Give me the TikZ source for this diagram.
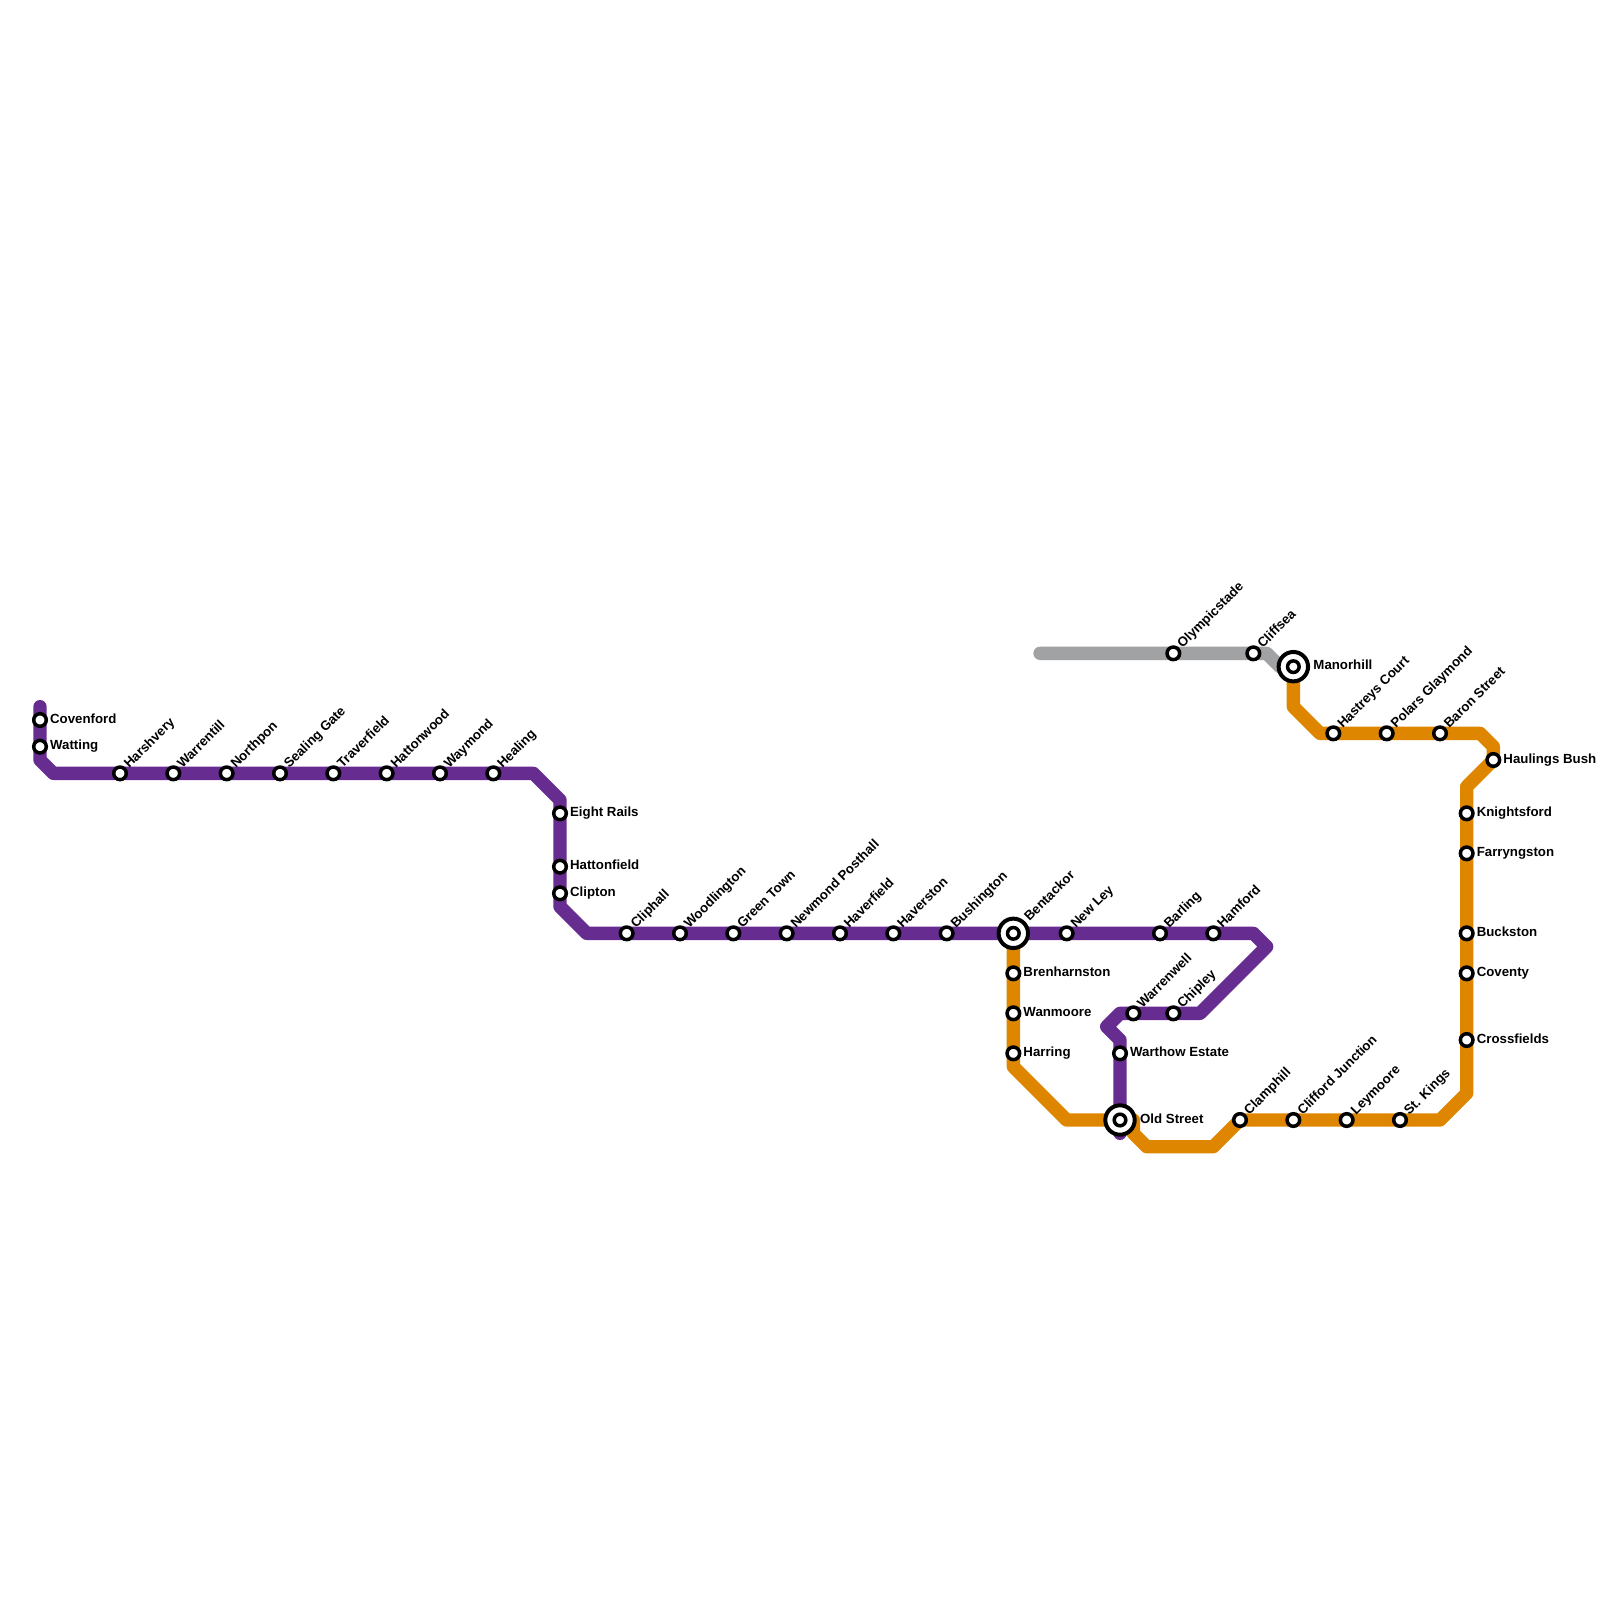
\documentclass[tikz,border=0pt]{standalone}
\usepackage{fontspec}
\setmainfont{Liberation Sans}
\usetikzlibrary{backgrounds}
\tikzset{
  x=0.666667cm,y=-0.666667cm,
  metro/.style={line width=0.6667cm,line cap=round,line join=round},
  purpleline/.style={metro,draw={rgb,255:red,102;green,44;blue,144}},
  orangeline/.style={metro,draw={rgb,255:red,223;green,134;blue,0}},
  greyline/.style={metro,draw={rgb,255:red,161;green,162;blue,163}},
  stop/.style={circle,draw=black,fill=white,line width=0.175cm,minimum size=0.63cm,inner sep=0pt},
  hub/.style={circle,draw=black,fill=white,line width=0.2cm,minimum size=1.47cm,inner sep=0pt},
  hubcore/.style={circle,draw=black,fill=white,line width=0.175cm,minimum size=0.58cm,inner sep=0pt},
  lab/.style={inner sep=0pt,font=\bfseries\fontsize{18.85}{20}\selectfont,text=black},
  labr/.style={lab,anchor=base west},
  labd/.style={lab,anchor=base west,rotate=45},
}
% name, grid x, grid y, label
\newcommand{\stopR}[4]{\node[stop] (#1) at (#2,#3) {};\node[labr] (l#1) at ([xshift=0.5cm,yshift=-0.165cm]#1.center) {#4};}
\newcommand{\stopD}[4]{\node[stop] (#1) at (#2,#3) {};\node[labd] (l#1) at ([xshift=0.465cm,yshift=0.22cm]#1.center) {#4};}
\newcommand{\hubR}[4]{\node[hub] (#1) at (#2,#3) {};\node[hubcore] (#1i) at (#1.center) {};\node[labr] (l#1) at ([xshift=1cm,yshift=-0.165cm]#1.center) {#4};}
\newcommand{\hubD}[4]{\node[hub] (#1) at (#2,#3) {};\node[hubcore] (#1i) at (#1.center) {};\node[labd] (l#1) at ([xshift=0.81cm,yshift=0.57cm]#1.center) {#4};}
\begin{document}
\begin{tikzpicture}
\useasboundingbox (0,0) rectangle (120,120);
% corner points
\coordinate (p0) at (3,53);
\coordinate (p1) at (3,57);
\coordinate (p2) at (4,58);
\coordinate (p3) at (40,58);
\coordinate (p4) at (42,60);
\coordinate (p5) at (42,68);
\coordinate (p6) at (44,70);
\coordinate (p7) at (94,70);
\coordinate (p8) at (95,71);
\coordinate (p9) at (90,76);
\coordinate (p10) at (84,76);
\coordinate (p11) at (83,77);
\coordinate (p12) at (84,78);
\coordinate (p13) at (84,85);
\coordinate (o1) at (76,80);
\coordinate (o2) at (80,84);
\coordinate (o3) at (85,84);
\coordinate (o4) at (85,85);
\coordinate (o5) at (86,86);
\coordinate (o6) at (91,86);
\coordinate (o7) at (108,84);
\coordinate (o8) at (110,82);
\coordinate (o9) at (110,59);
\coordinate (o10) at (112,56);
\coordinate (o11) at (111,55);
\coordinate (o12) at (99,55);
\coordinate (o13) at (97,53);
\coordinate (g0) at (78,49);
\coordinate (g1) at (95,49);
\coordinate (g2) at (96,50);
% stations
\stopR{covenford}{3}{54}{Covenford}
\stopR{watting}{3}{56}{Watting}
\stopD{harshvery}{9}{58}{Harshvery}
\stopD{warrentill}{13}{58}{Warrentill}
\stopD{northpon}{17}{58}{Northpon}
\stopD{sealing}{21}{58}{Sealing Gate}
\stopD{traverfield}{25}{58}{Traverfield}
\stopD{hattonwood}{29}{58}{Hattonwood}
\stopD{waymond}{33}{58}{Waymond}
\stopD{healing}{37}{58}{Healing}
\stopR{eightrails}{42}{61}{Eight Rails}
\stopR{hattonfield}{42}{65}{Hattonfield}
\stopR{clipton}{42}{67}{Clipton}
\stopD{cliphall}{47}{70}{Cliphall}
\stopD{woodlington}{51}{70}{Woodlington}
\stopD{greentown}{55}{70}{Green Town}
\stopD{newmond}{59}{70}{Newmond Posthall}
\stopD{haverfield}{63}{70}{Haverfield}
\stopD{haverston}{67}{70}{Haverston}
\stopD{bushington}{71}{70}{Bushington}
\hubD{bentackor}{76}{70}{Bentackor}
\stopD{newley}{80}{70}{New Ley}
\stopD{barling}{87}{70}{Barling}
\stopD{hamford}{91}{70}{Hamford}
\stopD{warrenwell}{85}{76}{Warrenwell}
\stopD{chipley}{88}{76}{Chipley}
\stopR{warthow}{84}{79}{Warthow Estate}
\hubR{oldstreet}{84}{84}{Old Street}
\stopR{brenharnston}{76}{73}{Brenharnston}
\stopR{wanmoore}{76}{76}{Wanmoore}
\stopR{harring}{76}{79}{Harring}
\stopD{clamphill}{93}{84}{Clamphill}
\stopD{clifford}{97}{84}{Clifford Junction}
\stopD{leymoore}{101}{84}{Leymoore}
\stopD{stkings}{105}{84}{St. Kings}
\stopR{crossfields}{110}{78}{Crossfields}
\stopR{coventy}{110}{73}{Coventy}
\stopR{buckston}{110}{70}{Buckston}
\stopR{farryngston}{110}{64}{Farryngston}
\stopR{knightsford}{110}{61}{Knightsford}
\stopR{haulings}{112}{57}{Haulings Bush}
\stopD{baron}{108}{55}{Baron Street}
\stopD{polars}{104}{55}{Polars Glaymond}
\stopD{hastreys}{100}{55}{Hastreys Court}
\hubR{manorhill}{97}{50}{Manorhill}
\stopD{olympic}{88}{49}{Olympicstade}
\stopD{cliffsea}{94}{49}{Cliffsea}
% lines
\begin{scope}[on background layer]
\fill[white] (0,0) rectangle (120,120);
\draw[greyline] (g0) -- (olympic.center) -- (cliffsea.center) -- (g1) -- (g2) -- (manorhill.center);
\draw[purpleline] (p0) -- (covenford.center) -- (watting.center) -- (p1) -- (p2) -- (harshvery.center) -- (warrentill.center) -- (northpon.center) -- (sealing.center) -- (traverfield.center) -- (hattonwood.center) -- (waymond.center) -- (healing.center) -- (p3) -- (p4) -- (eightrails.center) -- (hattonfield.center) -- (clipton.center) -- (p5) -- (p6) -- (cliphall.center) -- (woodlington.center) -- (greentown.center) -- (newmond.center) -- (haverfield.center) -- (haverston.center) -- (bushington.center) -- (bentackor.center) -- (newley.center) -- (barling.center) -- (hamford.center) -- (p7) -- (p8) -- (p9) -- (chipley.center) -- (warrenwell.center) -- (p10) -- (p11) -- (p12) -- (warthow.center) -- (oldstreet.center) -- (p13);
\draw[orangeline] (bentackor.center) -- (brenharnston.center) -- (wanmoore.center) -- (harring.center) -- (o1) -- (o2) -- (oldstreet.center) -- (o3) -- (o4) -- (o5) -- (o6) -- (clamphill.center) -- (clifford.center) -- (leymoore.center) -- (stkings.center) -- (o7) -- (o8) -- (crossfields.center) -- (coventy.center) -- (buckston.center) -- (farryngston.center) -- (knightsford.center) -- (o9) -- (haulings.center) -- (o10) -- (o11) -- (baron.center) -- (polars.center) -- (hastreys.center) -- (o12) -- (o13) -- (manorhill.center);
\end{scope}
\end{tikzpicture}
\end{document}
